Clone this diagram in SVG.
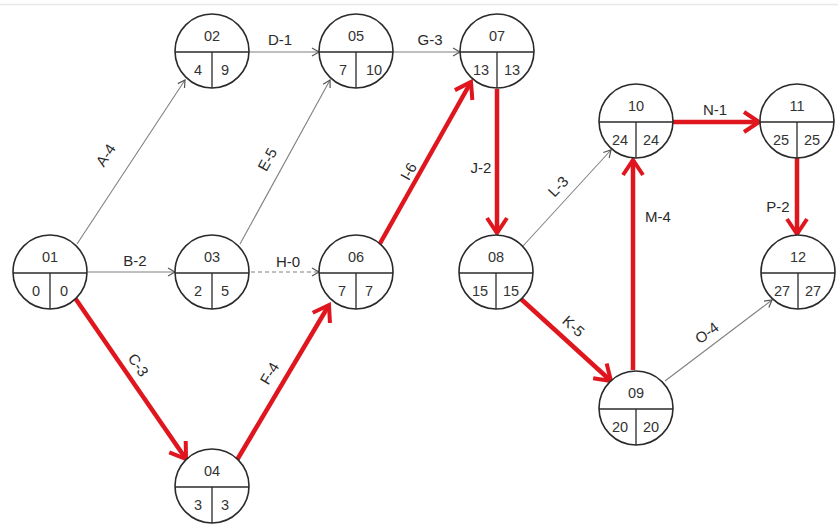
<svg xmlns="http://www.w3.org/2000/svg" width="838" height="525" viewBox="0 0 838 525">
<style>
.c{fill:#fff;stroke:#2a2a2a;stroke-width:1.6}
.d{stroke:#2a2a2a;stroke-width:1.3}
.t{font-family:"Liberation Sans",Arial,sans-serif;font-size:14.5px;fill:#333;text-anchor:middle}
.l{font-family:"Liberation Sans",Arial,sans-serif;font-size:15px;fill:#2a2a2a;text-anchor:middle}
.g{stroke:#808080;stroke-width:1.1;fill:none}
.r{stroke:#e0161e;stroke-width:4.5;fill:none}
</style>
<defs>
<marker id="ag" viewBox="-9 -6 11 12" markerWidth="11" markerHeight="12" refX="0" refY="0" orient="auto" markerUnits="userSpaceOnUse"><path d="M-7,-4 L0,0 L-7,4" fill="none" stroke="#555" stroke-width="1.2"/></marker>
<marker id="ar" viewBox="-19 -13 22 26" markerWidth="22" markerHeight="26" refX="0" refY="0" orient="auto" markerUnits="userSpaceOnUse"><path d="M-15,-10 L0,0 L-15,10" fill="none" stroke="#e0161e" stroke-width="4"/></marker>
</defs>
<rect width="838" height="525" fill="#fff"/>
<line x1="0" y1="4.5" x2="838" y2="4.5" stroke="#e8e8e8" stroke-width="1.5"/>
<g id="connectors">
<line class="g" x1="77" y1="244" x2="185" y2="80" marker-end="url(#ag)"/>
<line class="g" x1="249" y1="52" x2="319" y2="52" marker-end="url(#ag)"/>
<line class="g" x1="393" y1="52" x2="460" y2="52" marker-end="url(#ag)"/>
<line class="g" x1="240" y1="244" x2="330" y2="80" marker-end="url(#ag)"/>
<line class="g" x1="88" y1="272" x2="175" y2="272" marker-end="url(#ag)"/>
<line class="g" x1="251" y1="272" x2="319" y2="272" stroke-dasharray="4,3" marker-end="url(#ag)"/>
<line class="g" x1="523" y1="246" x2="611" y2="150" marker-end="url(#ag)"/>
<line class="g" x1="665" y1="381" x2="772" y2="300" marker-end="url(#ag)"/>
<line class="r" x1="75" y1="298" x2="186" y2="459" marker-end="url(#ar)"/>
<line class="r" x1="237" y1="460" x2="329" y2="305" marker-end="url(#ar)"/>
<line class="r" x1="378" y1="247" x2="471" y2="82" marker-end="url(#ar)"/>
<line class="r" x1="497" y1="89" x2="497" y2="233" marker-end="url(#ar)"/>
<line class="r" x1="521" y1="299" x2="611" y2="381" marker-end="url(#ar)"/>
<line class="r" x1="633" y1="370" x2="633" y2="160" marker-end="url(#ar)"/>
<line class="r" x1="673" y1="122" x2="759" y2="122" marker-end="url(#ar)"/>
<line class="r" x1="797" y1="158" x2="797" y2="234" marker-end="url(#ar)"/>
<text class="l" transform="translate(110,158) rotate(-57)">A-4</text>
<text class="l" x="280" y="45">D-1</text>
<text class="l" x="430" y="45">G-3</text>
<text class="l" transform="translate(272,162) rotate(-61)">E-5</text>
<text class="l" x="135" y="266">B-2</text>
<text class="l" x="288" y="267">H-0</text>
<text class="l" transform="translate(134,368) rotate(56)">C-3</text>
<text class="l" transform="translate(274,376) rotate(-59)">F-4</text>
<text class="l" transform="translate(413,174) rotate(-60)">I-6</text>
<text class="l" x="481" y="173">J-2</text>
<text class="l" transform="translate(562,190) rotate(-47)">L-3</text>
<text class="l" transform="translate(570,330) rotate(42)">K-5</text>
<text class="l" transform="translate(710,337) rotate(-37)">O-4</text>
<text class="l" x="658" y="222">M-4</text>
<text class="l" x="715" y="115">N-1</text>
<text class="l" x="778" y="212">P-2</text>
</g>
<g id="n01"><circle class="c" cx="50" cy="272" r="37"/><line class="d" x1="13" y1="273" x2="87" y2="273"/><line class="d" x1="50" y1="273" x2="50" y2="309"/><text class="t" x="50" y="262">01</text><text class="t" x="36" y="296">0</text><text class="t" x="64" y="296">0</text></g>
<g id="n02"><circle class="c" cx="212" cy="51" r="37"/><line class="d" x1="175" y1="52" x2="249" y2="52"/><line class="d" x1="212" y1="52" x2="212" y2="88"/><text class="t" x="212" y="41">02</text><text class="t" x="198" y="75">4</text><text class="t" x="225" y="75">9</text></g>
<g id="n03"><circle class="c" cx="212" cy="272" r="37"/><line class="d" x1="175" y1="273" x2="249" y2="273"/><line class="d" x1="212" y1="273" x2="212" y2="309"/><text class="t" x="212" y="262">03</text><text class="t" x="198" y="296">2</text><text class="t" x="225" y="296">5</text></g>
<g id="n04"><circle class="c" cx="212" cy="486" r="37"/><line class="d" x1="175" y1="487" x2="249" y2="487"/><line class="d" x1="212" y1="487" x2="212" y2="523"/><text class="t" x="212" y="476">04</text><text class="t" x="198" y="510">3</text><text class="t" x="225" y="510">3</text></g>
<g id="n05"><circle class="c" cx="356" cy="51" r="37"/><line class="d" x1="319" y1="52" x2="393" y2="52"/><line class="d" x1="356" y1="52" x2="356" y2="88"/><text class="t" x="356" y="41">05</text><text class="t" x="343" y="75">7</text><text class="t" x="374" y="75">10</text></g>
<g id="n06"><circle class="c" cx="356" cy="272" r="37"/><line class="d" x1="319" y1="273" x2="393" y2="273"/><line class="d" x1="356" y1="273" x2="356" y2="309"/><text class="t" x="356" y="262">06</text><text class="t" x="342" y="296">7</text><text class="t" x="369" y="296">7</text></g>
<g id="n07"><circle class="c" cx="497" cy="51" r="37"/><line class="d" x1="460" y1="52" x2="534" y2="52"/><line class="d" x1="497" y1="52" x2="497" y2="88"/><text class="t" x="497" y="41">07</text><text class="t" x="481" y="75">13</text><text class="t" x="512" y="75">13</text></g>
<g id="n08"><circle class="c" cx="496" cy="272" r="37"/><line class="d" x1="459" y1="273" x2="533" y2="273"/><line class="d" x1="496" y1="273" x2="496" y2="309"/><text class="t" x="496" y="262">08</text><text class="t" x="480" y="296">15</text><text class="t" x="511" y="296">15</text></g>
<g id="n09"><circle class="c" cx="636" cy="408" r="37"/><line class="d" x1="599" y1="409" x2="673" y2="409"/><line class="d" x1="636" y1="409" x2="636" y2="445"/><text class="t" x="636" y="398">09</text><text class="t" x="620" y="432">20</text><text class="t" x="651" y="432">20</text></g>
<g id="n10"><circle class="c" cx="636" cy="121" r="37"/><line class="d" x1="599" y1="122" x2="673" y2="122"/><line class="d" x1="636" y1="122" x2="636" y2="158"/><text class="t" x="636" y="111">10</text><text class="t" x="620" y="145">24</text><text class="t" x="651" y="145">24</text></g>
<g id="n11"><circle class="c" cx="797" cy="121" r="37"/><line class="d" x1="760" y1="122" x2="834" y2="122"/><line class="d" x1="797" y1="122" x2="797" y2="158"/><text class="t" x="797" y="111">11</text><text class="t" x="781" y="145">25</text><text class="t" x="812" y="145">25</text></g>
<g id="n12"><circle class="c" cx="798" cy="272" r="37"/><line class="d" x1="761" y1="273" x2="835" y2="273"/><line class="d" x1="798" y1="273" x2="798" y2="309"/><text class="t" x="798" y="262">12</text><text class="t" x="782" y="296">27</text><text class="t" x="813" y="296">27</text></g>
</svg>
